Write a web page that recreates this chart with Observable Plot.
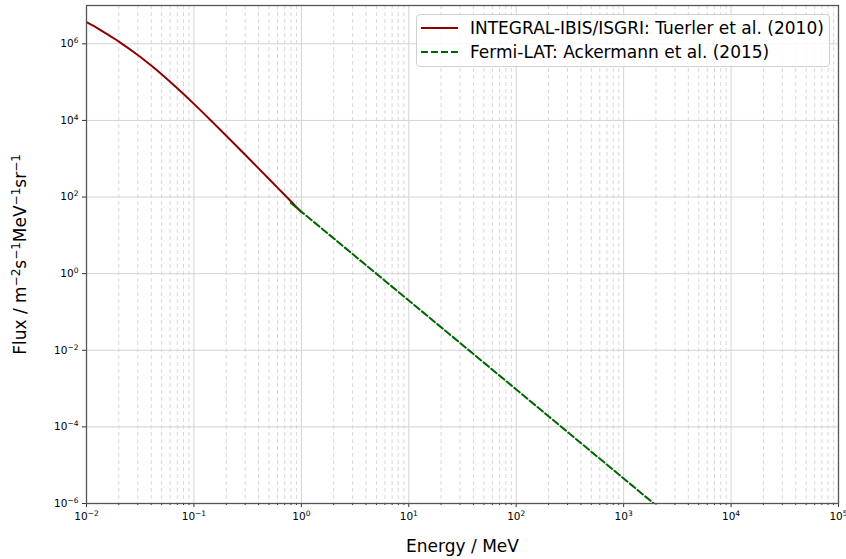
<!DOCTYPE html>
<html>
<head>
<meta charset="utf-8">
<script src="https://cdn.jsdelivr.net/npm/d3@7"></script>
<script src="https://cdn.jsdelivr.net/npm/@observablehq/plot@0.6"></script>
<style>
  html, body { margin: 0; padding: 0; background: #fff; }
  #wrap { position: relative; width: 846px; height: 559px; font-family: "DejaVu Sans", sans-serif; }
  #legend { position: absolute; left: 416px; top: 14px; width: 414px; height: 53px; box-sizing: border-box;
    border: 1px solid #d0d0d0; border-radius: 4px; background: rgba(255,255,255,0.8); font-size: 17px; color: #000; }
  .row { position: absolute; left: 0; display: flex; align-items: center; white-space: nowrap; }
  .row svg { margin-left: 4px; margin-right: 12px; }
</style>
</head>
<body>
<div id="wrap">
  <div id="chart"></div>
  <div id="legend">
    <div class="row" style="top:2px;height:22px;"><svg width="37" height="10"><line x1="0" y1="5" x2="37" y2="5" stroke="#8b0000" stroke-width="2"/></svg><span>INTEGRAL-IBIS/ISGRI: Tuerler et al. (2010)</span></div>
    <div class="row" style="top:26px;height:22px;"><svg width="37" height="10"><line x1="0" y1="5" x2="37" y2="5" stroke="#006400" stroke-width="2" stroke-dasharray="7,3"/></svg><span>Fermi-LAT: Ackermann et al. (2015)</span></div>
  </div>
</div>
<script>
// INTEGRAL-IBIS/ISGRI (Tuerler et al. 2010), energy in MeV, flux in m^-2 s^-1 MeV^-1 sr^-1
const integralEnergy = [0.01, 0.012, 0.015, 0.02, 0.03, 0.04, 0.05, 0.07, 0.1, 0.15, 0.2, 0.3, 0.5, 0.7, 1.0];
const integralFlux   = [3.7e6, 2.8e6, 1.9e6, 1.14e6, 5.1e5, 2.7e5, 1.6e5, 6.9e4, 2.7e4, 8.9e3, 4.0e3, 1.27e3, 296, 113, 40.5];
// Fermi-LAT (Ackermann et al. 2015)
const fermiEnergy = [0.8, 1, 10, 100, 1000, 3000];
const fermiFlux   = [70, 41.5, 0.199, 9.5e-4, 4.5e-6, 3.5e-7];
// Axis ticks
const xMajor = [1e-2, 1e-1, 1e0, 1e1, 1e2, 1e3, 1e4, 1e5];
const yMajor = [1e-6, 1e-4, 1e-2, 1e0, 1e2, 1e4, 1e6];

const xMinor = [];
for (let d = -2; d < 5; d++) for (let m = 2; m <= 9; m++) xMinor.push(m * Math.pow(10, d));

const integral = integralEnergy.map((e, i) => ({E: e, F: integralFlux[i]}));
const fermi = fermiEnergy.map((e, i) => ({E: e, F: fermiFlux[i]}));

const fmt = d => "10^" + Math.round(Math.log10(d));

const chart = Plot.plot({
  width: 846, height: 559,
  marginLeft: 86, marginRight: 8, marginTop: 5, marginBottom: 56,
  style: {fontFamily: "DejaVu Sans, sans-serif", fontSize: "10px", color: "#000", background: "#fff"},
  x: {type: "log", domain: [1e-2, 1e5]},
  y: {type: "log", domain: [1e-6, 1e7]},
  marks: [
    Plot.ruleX(xMinor, {stroke: "#d9d9d9", strokeWidth: 1, strokeDasharray: "4,3"}),
    Plot.ruleX(xMajor, {stroke: "#d3d3d3", strokeWidth: 1}),
    Plot.ruleY(yMajor, {stroke: "#d3d3d3", strokeWidth: 1}),
    Plot.line(integral, {x: "E", y: "F", stroke: "#8b0000", strokeWidth: 2, curve: "catmull-rom", clip: true}),
    Plot.line(fermi, {x: "E", y: "F", stroke: "#006400", strokeWidth: 2, strokeDasharray: "7,3", clip: true}),
    Plot.axisX(xMinor, {tickSize: 2, tickFormat: () => "", label: null, stroke: "#333"}),
    Plot.axisX(xMajor, {tickSize: 4, tickFormat: fmt, tickPadding: 5, fontSize: 10.5, label: null, stroke: "#333"}),
    Plot.axisY(yMajor, {tickSize: 4, tickFormat: fmt, tickPadding: 4, fontSize: 10.5, label: null, stroke: "#333"}),
    Plot.frame({stroke: "#555", strokeWidth: 1.3}),
    Plot.text(["Energy / MeV"], {frameAnchor: "bottom", dy: 48, fontSize: 17, fill: "#000"}),
    Plot.text(["YLABEL"], {frameAnchor: "left", dx: -66, rotate: -90, textAnchor: "middle", fontSize: 17, fill: "#000"})
  ]
});

// Render exponents as raised superscripts
function setParts(el, parts, supSize, shift) {
  el.textContent = "";
  let up = false;
  for (const [txt, isSup] of parts) {
    const ts = document.createElementNS("http://www.w3.org/2000/svg", "tspan");
    ts.textContent = txt;
    if (isSup) { ts.setAttribute("font-size", supSize); ts.setAttribute("dy", -shift); up = true; }
    else if (up) { ts.setAttribute("dy", shift); up = false; }
    el.appendChild(ts);
  }
}
d3.select(chart).selectAll("text").each(function () {
  const t = this.textContent;
  if (t.startsWith("10^")) {
    const e = t.slice(3).replace("-", "\u2212");
    setParts(this, [["10", false], [e, true]], 7.5, 4);
  } else if (t === "YLABEL") {
    setParts(this, [["Flux / m", false], ["\u22122", true], ["s", false], ["\u22121", true], ["MeV", false], ["\u22121", true], ["sr", false], ["\u22121", true]], 12, 6);
  }
});
document.getElementById("chart").appendChild(chart);
</script>
</body>
</html>
